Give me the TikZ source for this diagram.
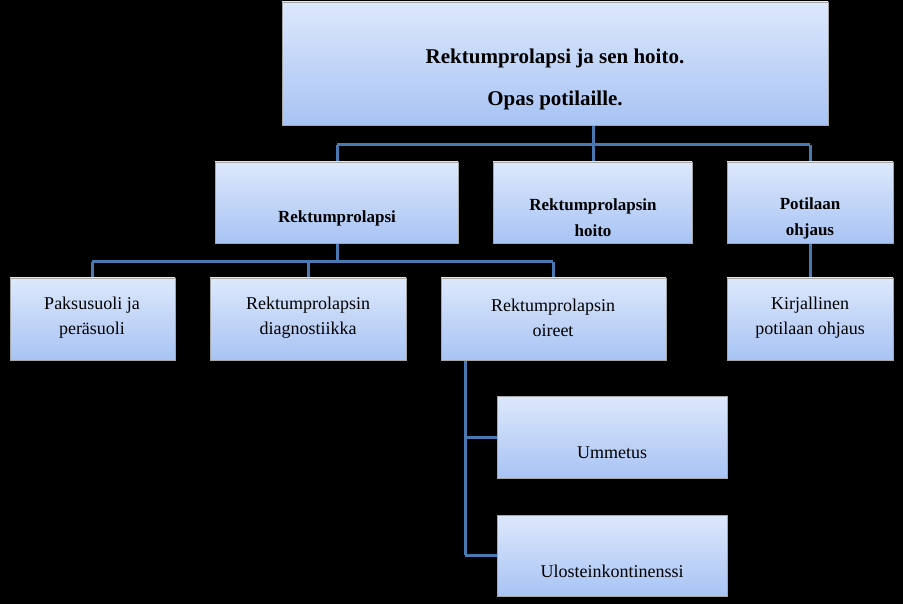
\documentclass[tikz,border=0pt]{standalone}
\usepackage{fontspec}
\setmainfont{Liberation Serif}
\begin{document}
\begin{tikzpicture}[x=1pt,y=-1pt,
  box/.style={draw=gray!70,line width=0.8pt,top color=boxtop,bottom color=boxbot},
  conn/.style={draw=conncol,line width=3pt},
  bt/.style={font=\bfseries\fontsize{17}{20}\selectfont,align=center,inner sep=0pt},
  nt/.style={font=\fontsize{18}{25}\selectfont,align=center,inner sep=0pt}]
\definecolor{boxtop}{HTML}{DDE8FC}
\definecolor{boxbot}{HTML}{A8C3F4}
\definecolor{conncol}{HTML}{4A78B2}
\fill[black] (0,0) rectangle (903,604);
\useasboundingbox (0,0) rectangle (903,604);
% connectors
\coordinate (j1) at (593,145); \coordinate (l1) at (337,145); \coordinate (r1) at (810,145);
\draw[conn] (593,125) -- (j1) (l1) -- (r1) (l1) -- (337,162) (j1) -- (593,162) (r1) -- (810,162);
\draw[conn] (337,243) -- (337,262) (92,262) -- (553,262) (92,262) -- (92,278) (308,262) -- (308,278) (553,262) -- (553,278);
\draw[conn] (810,243) -- (810,278);
\draw[conn] (465,360) -- (465,555) (465,437) -- (497,437) (465,555) -- (497,555);
% boxes
\path[box] (282,2) rectangle (828,125);
\path[box] (215,162) rectangle (458,243);
\path[box] (493,162) rectangle (692,243);
\path[box] (727,162) rectangle (893,243);
\path[box] (10,278) rectangle (175,360);
\path[box] (210,278) rectangle (406,360);
\path[box] (441,278) rectangle (666,360);
\path[box] (727,278) rectangle (893,360);
\path[box] (497,396) rectangle (727,478);
\path[box] (497,515) rectangle (727,596);
% texts
\node[bt,font=\bfseries\fontsize{21}{42}\selectfont] (t) at (555,79) {Rektumprolapsi ja sen hoito.\\Opas potilaille.};
\node[bt] (a) at (337,218) {Rektumprolapsi};
\node[bt,font=\bfseries\fontsize{17}{26}\selectfont] (b) at (593,218) {Rektumprolapsin\\hoito};
\node[bt,font=\bfseries\fontsize{17}{26}\selectfont] (c) at (810,218) {Potilaan\\ohjaus};
\node[nt] (d) at (92,318) {Paksusuoli ja\\peräsuoli};
\node[nt] (e) at (308,318) {Rektumprolapsin\\diagnostiikka};
\node[nt] (f) at (553,318) {Rektumprolapsin\\oireet};
\node[nt] (g) at (810,318) {Kirjallinen\\potilaan ohjaus};
\node[nt] (h) at (612,453) {Ummetus};
\node[nt] (i) at (612,571) {Ulosteinkontinenssi};
\end{tikzpicture}
\end{document}
